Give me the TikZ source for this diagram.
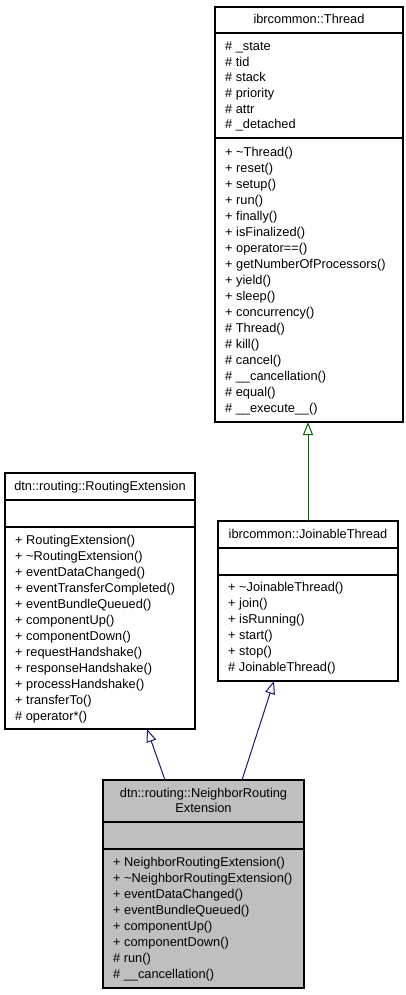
\documentclass[tikz,border=0pt]{standalone}
\usepackage{fontspec}
\setmainfont{Liberation Sans}
\usetikzlibrary{arrows.meta}
\definecolor{inhblue}{HTML}{191970}
\definecolor{inhgreen}{HTML}{006400}
\definecolor{grey75}{HTML}{BFBFBF}
\tikzset{
  umlbox/.style={draw=black, line width=1.1pt, rectangle, inner sep=0pt, outer sep=0pt, anchor=north west},
  mem/.style={anchor=base west, inner sep=0pt, font=\fontsize{12.8}{15}\selectfont},
  ttl/.style={anchor=base, inner sep=0pt, font=\fontsize{12.8}{15}\selectfont},
  sep/.style={line width=1.1pt},
  inhedge/.style={line width=1pt, -{Triangle[open, length=13pt, width=10pt, line width=1pt]}},
}
\newcommand\memberlist[5]{% name prefix, x, y0, dy, list
  \foreach \t [count=\i from 0] in {#5} \node[mem] (#1-\i) at (#2,{#3+\i*#4}) {\t};}
\begin{document}
\begin{tikzpicture}[x=1pt, y=-1pt]
\useasboundingbox (0,0) rectangle (405,995);
% ---------- ibrcommon::Thread
\node[umlbox, minimum width=188pt, minimum height=415pt] (thread) at (215,7) {};
\draw[sep] (215,33) -- (403,33);
\draw[sep] (215,138) -- (403,138);
\node[ttl] (thread-title) at (309,23.5) {ibrcommon::Thread};
\memberlist{thread-a}{225}{50.5}{15.7}{\# \_state, \# tid, \# stack, \# priority, \# attr, \# \_detached}
\memberlist{thread-m}{225}{156.5}{16}{+ \textasciitilde Thread(), + reset(), + setup(), + run(), + finally(), + isFinalized(), + operator==(), + getNumberOfProcessors(), + yield(), + sleep(), + concurrency(), \# Thread(), \# kill(), \# cancel(), \# \_\_cancellation(), \# equal(), \# \_\_execute\_\_()}
% ---------- dtn::routing::RoutingExtension
\node[umlbox, minimum width=190pt, minimum height=256pt] (routing) at (5,473) {};
\draw[sep] (5,500) -- (195,500);
\draw[sep] (5,527) -- (195,527);
\node[ttl] (routing-title) at (100,490) {dtn::routing::RoutingExtension};
\memberlist{routing-m}{15}{544}{16}{+ RoutingExtension(), + \textasciitilde RoutingExtension(), + eventDataChanged(), + eventTransferCompleted(), + eventBundleQueued(), + componentUp(), + componentDown(), + requestHandshake(), + responseHandshake(), + processHandshake(), + transferTo(), \# operator*()}
% ---------- ibrcommon::JoinableThread
\node[umlbox, minimum width=180pt, minimum height=160pt] (joinable) at (218,521) {};
\draw[sep] (218,548) -- (398,548);
\draw[sep] (218,575) -- (398,575);
\node[ttl] (joinable-title) at (308,538.5) {ibrcommon::JoinableThread};
\memberlist{joinable-m}{228}{591.7}{16}{+ \textasciitilde JoinableThread(), + join(), + isRunning(), + start(), + stop(), \# JoinableThread()}
% ---------- dtn::routing::NeighborRoutingExtension
\node[umlbox, fill=grey75, minimum width=201pt, minimum height=208pt] (neighbor) at (103,780) {};
\draw[sep] (103,822) -- (304,822);
\draw[sep] (103,849) -- (304,849);
\node[ttl] (neighbor-title1) at (203.5,797) {dtn::routing::NeighborRouting};
\node[ttl] (neighbor-title2) at (203.5,812) {Extension};
\memberlist{neighbor-m}{113}{866.7}{15.9}{+ NeighborRoutingExtension(), + \textasciitilde NeighborRoutingExtension(), + eventDataChanged(), + eventBundleQueued(), + componentUp(), + componentDown(), \# run(), \# \_\_cancellation()}
% ---------- connectors
\path (neighbor.north west) ++(62,0) coordinate (n1);
\path (neighbor.north west) ++(139,0) coordinate (n2);
\path (routing.south west) ++(142,0) coordinate (r1);
\path (joinable.south west) ++(56,0) coordinate (j1);
\draw[inhedge, draw=inhgreen] (joinable.north) -- (joinable.north |- thread.south);
\draw[inhedge, draw=inhblue] (n1) -- (r1);
\draw[inhedge, draw=inhblue] (n2) -- (j1);
\end{tikzpicture}
\end{document}
